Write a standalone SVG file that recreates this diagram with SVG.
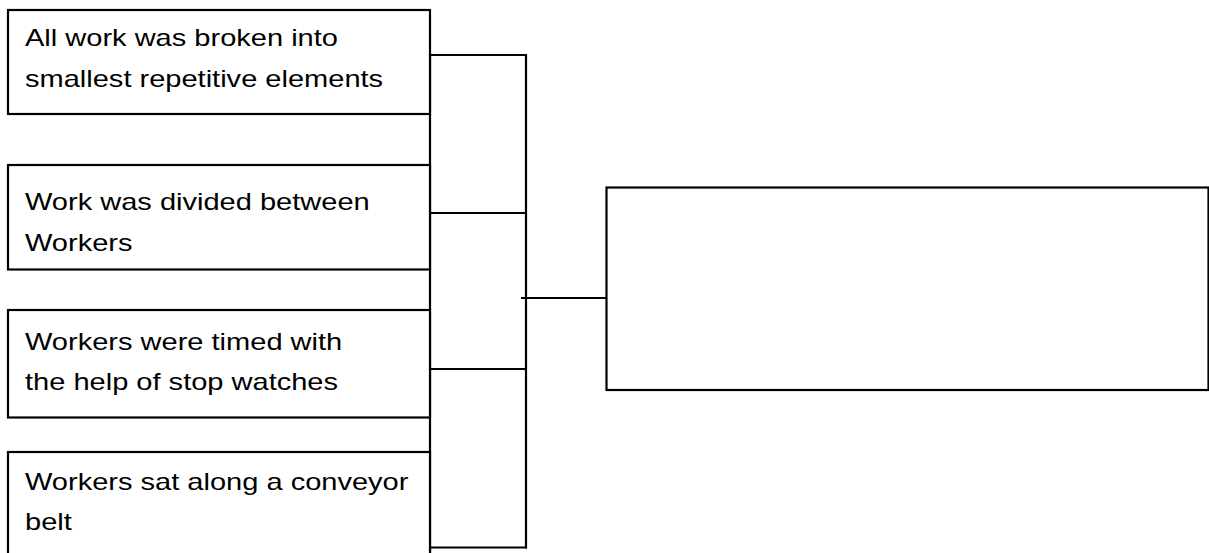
<svg xmlns="http://www.w3.org/2000/svg" width="1209" height="553" viewBox="0 0 1209 553">
<style>
.box{fill:#fff;stroke:#000;stroke-width:2.2}
.lbl{font-family:"Liberation Sans",Arial,sans-serif;font-size:24px;fill:#000}
.con{fill:none;stroke:#000;stroke-width:2.2}
</style>
<rect width="1209" height="553" fill="#fff"/>
<g id="connectors">
<line class="con" x1="430" y1="55" x2="430" y2="553"/>
<line class="con" x1="430" y1="55" x2="527" y2="55"/>
<line class="con" x1="526" y1="55" x2="526" y2="548.5"/>
<line class="con" x1="430" y1="213" x2="526" y2="213"/>
<line class="con" x1="430" y1="369" x2="526" y2="369"/>
<line class="con" x1="430" y1="547.5" x2="527" y2="547.5"/>
<line class="con" x1="521" y1="298" x2="606" y2="298"/>
</g>
<g id="node1">
<rect class="box" x="8" y="10" width="422" height="104"/>
<text class="lbl" transform="translate(25,45.5) scale(1.21,1)">All work was broken into</text>
<text class="lbl" transform="translate(25,86.5) scale(1.21,1)">smallest repetitive elements</text>
</g>
<g id="node2">
<rect class="box" x="8" y="165" width="422" height="104.5"/>
<text class="lbl" transform="translate(25,210) scale(1.21,1)">Work was divided between</text>
<text class="lbl" transform="translate(25,250.5) scale(1.21,1)">Workers</text>
</g>
<g id="node3">
<rect class="box" x="8" y="310" width="422" height="107.5"/>
<text class="lbl" transform="translate(25,350) scale(1.21,1)">Workers were timed with</text>
<text class="lbl" transform="translate(25,390) scale(1.21,1)">the help of stop watches</text>
</g>
<g id="node4">
<rect class="box" x="8" y="452" width="422" height="112"/>
<text class="lbl" transform="translate(25,490) scale(1.21,1)">Workers sat along a conveyor</text>
<text class="lbl" transform="translate(25,530) scale(1.21,1)">belt</text>
</g>
<g id="node5">
<rect class="box" x="606.5" y="187.5" width="602" height="202.5"/>
</g>
</svg>
